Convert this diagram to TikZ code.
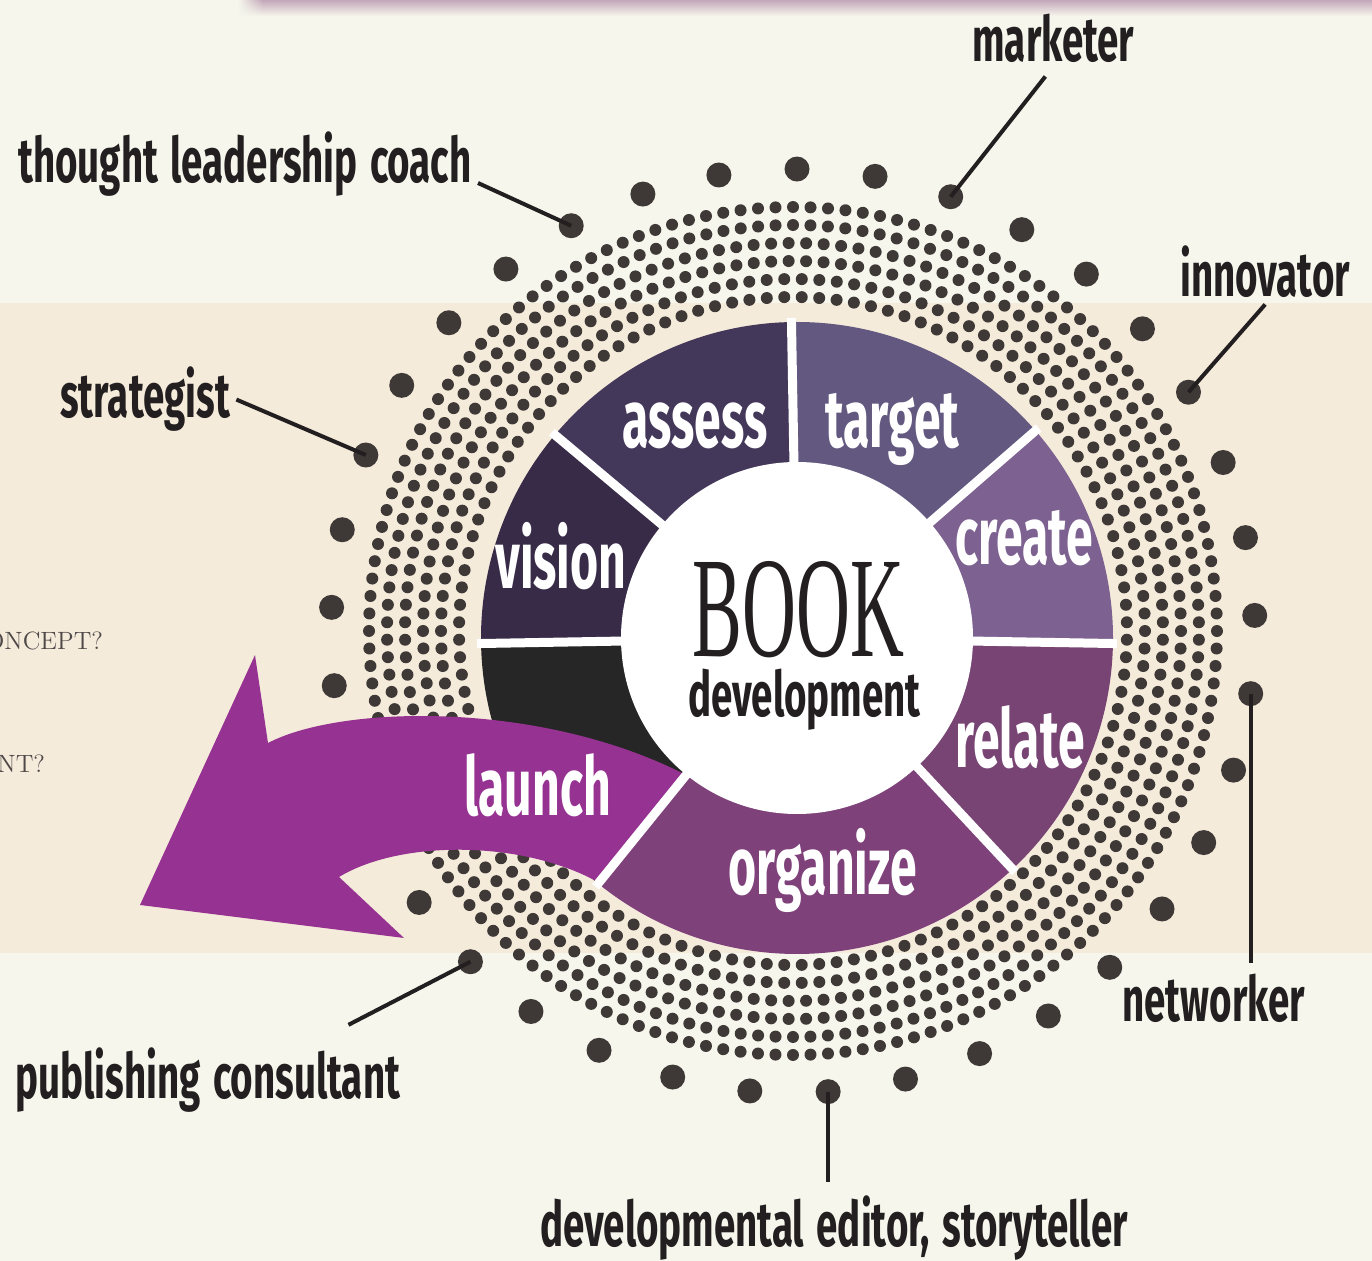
\documentclass[tikz,border=0pt]{standalone}
\usepackage{fontspec}
\usetikzlibrary{calc,fadings}
\newfontfamily\rolefont{Fira Sans}[FakeStretch=0.615, WordSpace=1.35]
\newfontfamily\stagefont{Fira Sans}[FakeStretch=0.59]
\newfontfamily\bookfont{Liberation Serif}[FakeStretch=0.52]

\definecolor{bgtop}{HTML}{F6F6EC}
\definecolor{bgband}{HTML}{F5EBDB}
\definecolor{barc}{HTML}{C3A7B9}
\definecolor{dotc}{HTML}{3E3936}
\definecolor{ink}{HTML}{231F20}
\definecolor{ghostc}{HTML}{4E4848}
\definecolor{cassess}{HTML}{44385A}
\definecolor{ctarget}{HTML}{635980}
\definecolor{ccreate}{HTML}{7D6291}
\definecolor{crelate}{HTML}{774474}
\definecolor{corganize}{HTML}{7E417A}
\definecolor{cvision}{HTML}{382B47}
\definecolor{claunch}{HTML}{262626}
\definecolor{carrow}{HTML}{963291}

\tikzset{
  role/.style={font=\rolefont\bfseries\fontsize{31.3}{34}\selectfont, text=ink, inner sep=0, anchor=base west},
  stage/.style={font=\stagefont\bfseries\fontsize{40.8}{44}\selectfont, text=white, inner sep=0, anchor=base west},
  ghost/.style={font=\fontsize{12.5}{14}\selectfont, text=ghostc, inner sep=0, anchor=base west},
  bigdot/.style={circle, fill=dotc, inner sep=0, minimum size=12.5pt},
  lead/.style={draw=ink, line width=2pt},
  divider/.style={draw=white, line width=4.5pt},
}

% one ring piece of the wheel: start angle, end angle, colour
\newcommand{\wseg}[3]{\fill[#3] (#1:316) arc[start angle=#1, end angle=#2, radius=316]
  -- (#2:170) arc[start angle=#2, end angle=#1, radius=170] -- cycle;}

\begin{document}
\begin{tikzpicture}[x=0.5pt,y=-0.5pt]
\useasboundingbox (0,0) rectangle (1372,1261);
\clip (0,0) rectangle (1372,1261);

% Background
\fill[bgtop] (0,0) rectangle (1372,1261);
\fill[bgband] (0,303) rectangle (1372,953);
\shade[top color=barc, bottom color=bgtop] (262,0) rectangle (1372,16);
\shade[top color=barc, bottom color=bgtop, path fading=west] (238,0) rectangle (263,16);

% Dots round the wheel
\begin{scope}[shift={(793,631)}, yscale=-1]
  \foreach \rr/\nd/\off in {424/152/0, 406/146/0.5, 388/139/0, 370/133/0.5, 352/126/0, 334/120/0.5}
    \foreach \k in {1,...,\nd}
      \fill[dotc] ({360/\nd*(\k+\off)}:\rr) circle[radius=6];
  \foreach \k in {0,...,36}
    \node[bigdot] (bd\k) at ({89.5+\k*360/37}:462) {};
\end{scope}

% Wheel
\begin{scope}[shift={(797,638)}, yscale=-1]
  \wseg{41}{91}{ctarget}
  \wseg{91}{140}{cassess}
  \wseg{140}{181}{cvision}
  \wseg{181}{231}{claunch}
  \wseg{231}{313}{corganize}
  \wseg{313}{359}{crelate}
  \wseg{-1}{41}{ccreate}
  \fill[white] (0,0) circle[radius=176];
\end{scope}

% Launch arrow
\fill[carrow] (268,743) .. controls (340,705) and (540,700) .. (686,775)
  -- (596,881) .. controls (520,840) and (400,840) .. (339,877)
  -- (404,938) -- (140,905) -- (255,655) -- cycle;

\begin{scope}[shift={(797,638)}, yscale=-1]
  \foreach \a in {41,91,140,181,231,313,359}
    \draw[divider] (\a:174) -- (\a:320);
\end{scope}

% Stage labels
\node[stage] (assess) at (622,448) {assess};
\node[stage] (target) at (825,448) {target};
\node[stage] (create) at (955,565) {create};
\node[stage] (vision) at (495,589) {vision};
\node[stage] (relate) at (955,768) {relate};
\node[stage] (organize) at (728,895) {organize};
\node[stage] (launch) at (464,816) {launch};

% Centre
\node[inner sep=0, anchor=base west, text=ink, text depth=0pt, font=\bookfont\fontsize{71.8}{74}\selectfont] (book) at (692,657) {BOOK};
\node[role] (devt) at (688,717) {development};

% Roles
\node[role] (tlc) at (18,183) {thought leadership coach};
\node[role] (mkt) at (972,62) {marketer};
\node[role] (inno) at (1180,297) {innovator};
\node[role] (strat) at (60,418) {strategist};
\node[role] (netw) at (1122,1021) {networker};
\node[role] (pub) at (15,1098) {publishing consultant};
\node[role] (dev) at (540,1246) {developmental editor, storyteller};

% Cut-off side text
\node[ghost] (q1) at (-15,650) {ONCEPT?};
\node[ghost] (q2) at (-3,773) {NT?};

% Connect the labels
\draw[lead] ([xshift=3pt]tlc.base east) -- (bd3.center);
\draw[lead] ($(mkt.south)+(-8,13)$) -- (bd35.center);
\draw[lead] ($(inno.south)+(0,6)$) -- (bd31.center);
\draw[lead] ([xshift=3pt]strat.east) -- (bd7.center);
\draw[lead] (bd27.center) -- ($(bd27 |- netw.north)+(0,-10)$);
\draw[lead] (bd19.center) -- ($(bd19 |- dev.north)+(0,-13)$);
\draw[lead] ($(pub.north east)+(-52,-22)$) -- (bd14.center);

\end{tikzpicture}
\end{document}
